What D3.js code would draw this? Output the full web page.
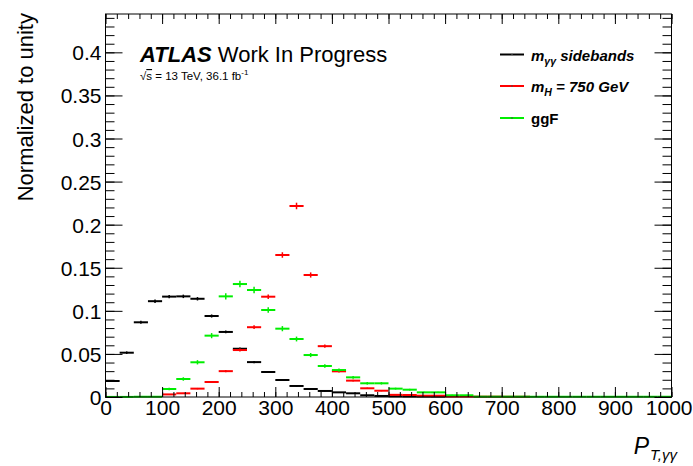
<!DOCTYPE html>
<html>
<head>
<meta charset="utf-8">
<script src="https://cdn.jsdelivr.net/npm/d3@7/dist/d3.min.js"></script>
<style>
  html, body { margin: 0; padding: 0; background: #fff; }
  svg { display: block; }
  text { font-family: "Liberation Sans", Arial, Helvetica, sans-serif; }
</style>
</head>
<body>
<svg id="chart" width="693" height="466"></svg>
<script>
// pT(γγ) distributions, 25 GeV bins from 0 to 1000 GeV, normalised to unit area.
// null = empty bin (not drawn).
const binEdges = d3.range(0, 1001, 25);

const sidebands = [
  0.0186, 0.0514, 0.0867, 0.1112, 0.1165, 0.1168, 0.1140, 0.0940, 0.0755, 0.0560,
  0.0405, 0.0290, 0.0197, 0.0128, 0.0093, 0.0070, 0.0054, 0.0043, 0.0020, 0.0012,
  0.0008, 0.0006, 0.0005, 0.0004, null, null, null, null, null, null,
  null, null, null, null, null, null, null, null, null, null
];
const sidebandsErr = [
  0.0010, 0.0015, 0.0018, 0.0020, 0.0020, 0.0020, 0.0020, 0.0018, 0.0016, 0.0014,
  0.0012, 0.0010, 0.0008, 0.0007, 0.0006, 0.0005, 0.0004, 0.0004, 0.0003, 0.0003,
  0.0002, 0.0002, 0.0002, 0.0002, 0, 0, 0, 0, 0, 0,
  0, 0, 0, 0, 0, 0, 0, 0, 0, 0
];

const mH750 = [
  null, null, null, null, 0.0030, 0.0043, 0.0097, 0.0174, 0.0300, 0.0545,
  0.0810, 0.1164, 0.1648, 0.2217, 0.1416, 0.0590, 0.0298, 0.0190, 0.0101, 0.0073,
  0.0025, 0.0023, 0.0015, 0.0015, 0.0005, 0.0005, 0.0004, 0.0004, 0.0003, 0.0003,
  null, null, null, null, null, null, null, null, null, null
];
const mH750Err = [
  0, 0, 0, 0, 0.0004, 0.0005, 0.0008, 0.0010, 0.0013, 0.0018,
  0.0022, 0.0027, 0.0032, 0.0038, 0.0030, 0.0019, 0.0013, 0.0010, 0.0008, 0.0007,
  0.0004, 0.0004, 0.0003, 0.0003, 0.0002, 0.0002, 0.0002, 0.0002, 0.0002, 0.0002,
  0, 0, 0, 0, 0, 0, 0, 0, 0, 0
];

const ggF = [
  0.0001, 0.0001, 0.0003, 0.0003, 0.0093, 0.0209, 0.0403, 0.0712, 0.1168, 0.1311,
  0.1242, 0.1010, 0.0793, 0.0673, 0.0487, 0.0360, 0.0313, 0.0228, 0.0159, 0.0159,
  0.0097, 0.0085, 0.0054, 0.0054, 0.0020, 0.0020, 0.0004, 0.0004, 0.0004, 0.0004,
  0.0003, 0.0003, 0.0003, 0.0003, 0.0003, 0.0003, 0.0003, 0.0003, 0.0003, 0.0003
];
const ggFErr = [
  0, 0, 0, 0, 0.0015, 0.0020, 0.0025, 0.0030, 0.0035, 0.0038,
  0.0037, 0.0033, 0.0030, 0.0028, 0.0024, 0.0020, 0.0019, 0.0017, 0.0015, 0.0014,
  0.0011, 0.0010, 0.0008, 0.0008, 0.0005, 0.0005, 0, 0, 0, 0,
  0, 0, 0, 0, 0, 0, 0, 0, 0, 0
];

const xMajorTicks = d3.range(0, 1001, 100);
const xMinorTicks = d3.range(0, 1001, 20);
const yMajorTicks = [0, 0.05, 0.1, 0.15, 0.2, 0.25, 0.3, 0.35, 0.4];
const yMinorTicks = d3.range(0, 45).map(i => i / 100);
const yTickLabels = ["0", "0.05", "0.1", "0.15", "0.2", "0.25", "0.3", "0.35", "0.4"];

const legendLabels = ["sidebands", "= 750 GeV", "ggF"];

const series = [
  { name: "sidebands", values: sidebands, errors: sidebandsErr, color: "#000000" },
  { name: "mH750", values: mH750, errors: mH750Err, color: "#ff0000" },
  { name: "ggF", values: ggF, errors: ggFErr, color: "#00ee00" }
];

// ---- layout ----
const frame = { left: 105.5, right: 671.5, top: 14, bottom: 397 };
const x = d3.scaleLinear().domain([0, 1000]).range([frame.left, frame.right]);
const y = d3.scaleLinear().domain([0, 0.4445]).range([frame.bottom, frame.top]);

const svg = d3.select("#chart");

// ---- histograms ----
const plot = svg.append("g");
series.forEach(s => {
  const g = plot.append("g").attr("stroke", s.color).attr("stroke-width", 2).attr("fill", "none");
  s.values.forEach((v, i) => {
    if (v === null) return;
    const lo = binEdges[i], hi = binEdges[i + 1];
    const yy = y(v);
    g.append("line")
      .attr("x1", x(lo)).attr("x2", x(hi))
      .attr("y1", yy).attr("y2", yy);
    const e = s.errors[i];
    if (e > 0) {
      const cx = x((lo + hi) / 2);
      g.append("line")
        .attr("x1", cx).attr("x2", cx)
        .attr("y1", y(v - e)).attr("y2", y(v + e))
        .attr("stroke-width", 1.5);
    }
  });
});

// ---- axes (ROOT style: ticks inside, on all four sides) ----
const fs = 21;
function styleAxis(g) {
  g.select(".domain").remove();
  g.selectAll("line").attr("stroke", "#000").attr("stroke-width", 1);
}

// bottom
svg.append("g").attr("transform", `translate(0,${frame.bottom})`)
  .call(d3.axisBottom(x).tickValues(xMinorTicks).tickSizeInner(-5).tickSizeOuter(0).tickFormat(""))
  .call(styleAxis).selectAll("text").remove();
const bottom = svg.append("g").attr("transform", `translate(0,${frame.bottom})`)
  .call(d3.axisBottom(x).tickValues(xMajorTicks).tickSizeInner(-10).tickSizeOuter(0).tickFormat(d3.format("d")))
  .call(styleAxis);
bottom.selectAll("text")
  .attr("y", 18).attr("dy", 0)
  .attr("font-size", fs).attr("fill", "#000")
  .attr("font-family", "Liberation Sans, Arial, sans-serif");
// keep the last label inside the canvas
bottom.selectAll("text").filter(d => d === 1000)
  .attr("text-anchor", "end").attr("x", 692 - frame.right);

// top
svg.append("g").attr("transform", `translate(0,${frame.top})`)
  .call(d3.axisTop(x).tickValues(xMinorTicks).tickSizeInner(-5).tickSizeOuter(0).tickFormat(""))
  .call(styleAxis).selectAll("text").remove();
svg.append("g").attr("transform", `translate(0,${frame.top})`)
  .call(d3.axisTop(x).tickValues(xMajorTicks).tickSizeInner(-10).tickSizeOuter(0).tickFormat(""))
  .call(styleAxis).selectAll("text").remove();

// left
svg.append("g").attr("transform", `translate(${frame.left},0)`)
  .call(d3.axisLeft(y).tickValues(yMinorTicks).tickSizeInner(-9).tickSizeOuter(0).tickFormat(""))
  .call(styleAxis).selectAll("text").remove();
const left = svg.append("g").attr("transform", `translate(${frame.left},0)`)
  .call(d3.axisLeft(y).tickValues(yMajorTicks).tickSizeInner(-17).tickSizeOuter(0)
    .tickFormat((d, i) => yTickLabels[i]))
  .call(styleAxis);
left.selectAll("text")
  .attr("x", -4).attr("dy", "0.36em")
  .attr("font-size", fs).attr("fill", "#000")
  .attr("font-family", "Liberation Sans, Arial, sans-serif");

// right
svg.append("g").attr("transform", `translate(${frame.right},0)`)
  .call(d3.axisRight(y).tickValues(yMinorTicks).tickSizeInner(-9).tickSizeOuter(0).tickFormat(""))
  .call(styleAxis).selectAll("text").remove();
svg.append("g").attr("transform", `translate(${frame.right},0)`)
  .call(d3.axisRight(y).tickValues(yMajorTicks).tickSizeInner(-17).tickSizeOuter(0).tickFormat(""))
  .call(styleAxis).selectAll("text").remove();

// frame
svg.append("rect")
  .attr("x", frame.left).attr("y", frame.top)
  .attr("width", frame.right - frame.left).attr("height", frame.bottom - frame.top)
  .attr("fill", "none").attr("stroke", "#000").attr("stroke-width", 1);

// ---- axis titles ----
svg.append("text")
  .attr("transform", `translate(33,${frame.top - 1}) rotate(-90)`)
  .attr("text-anchor", "end")
  .attr("font-size", 22)
  .text("Normalized to unity");

const xt = svg.append("text")
  .attr("x", 677).attr("y", 454)
  .attr("text-anchor", "end")
  .attr("font-size", 23)
  .attr("font-style", "italic");
xt.append("tspan").text("P");
xt.append("tspan").attr("font-size", 15).attr("dy", 6).attr("dx", 1).text("T,γγ");

// ---- ATLAS label ----
const atlas = svg.append("text").attr("x", 140).attr("y", 62).attr("font-size", 22);
atlas.append("tspan").attr("font-weight", "bold").attr("font-style", "italic").text("ATLAS");
atlas.append("tspan").text(" Work In Progress");

const energy = svg.append("text").attr("x", 140).attr("y", 80).attr("font-size", 11.5);
energy.append("tspan").text("√");
energy.append("tspan").attr("text-decoration", "overline").text("s");
energy.append("tspan").text(" = 13 TeV, 36.1 fb");
energy.append("tspan").attr("font-size", 8).attr("dy", -5).text("-1");

// ---- legend ----
const legend = svg.append("g");
const legRows = [54.5, 86, 118];
series.forEach((s, i) => {
  const yy = legRows[i];
  legend.append("line")
    .attr("x1", 500).attr("x2", 524).attr("y1", yy).attr("y2", yy)
    .attr("stroke", s.color).attr("stroke-width", 2);
  legend.append("circle").attr("cx", 512).attr("cy", yy).attr("r", 0.8).attr("fill", "#444");
});
const l0 = legend.append("text").attr("x", 531).attr("y", legRows[0] + 6)
  .attr("font-size", 15).attr("font-weight", "bold").attr("font-style", "italic");
l0.append("tspan").text("m");
l0.append("tspan").attr("font-size", 10.5).attr("dy", 4).text("γγ");
l0.append("tspan").attr("dy", -4).text(" " + legendLabels[0]);

const l1 = legend.append("text").attr("x", 531).attr("y", legRows[1] + 6)
  .attr("font-size", 15).attr("font-weight", "bold").attr("font-style", "italic");
l1.append("tspan").text("m");
l1.append("tspan").attr("font-size", 10.5).attr("dy", 4).text("H");
l1.append("tspan").attr("dy", -4).text(" " + legendLabels[1]);

legend.append("text").attr("x", 531).attr("y", legRows[2] + 6)
  .attr("font-size", 15).attr("font-weight", "bold")
  .text(legendLabels[2]);
</script>
</body>
</html>
